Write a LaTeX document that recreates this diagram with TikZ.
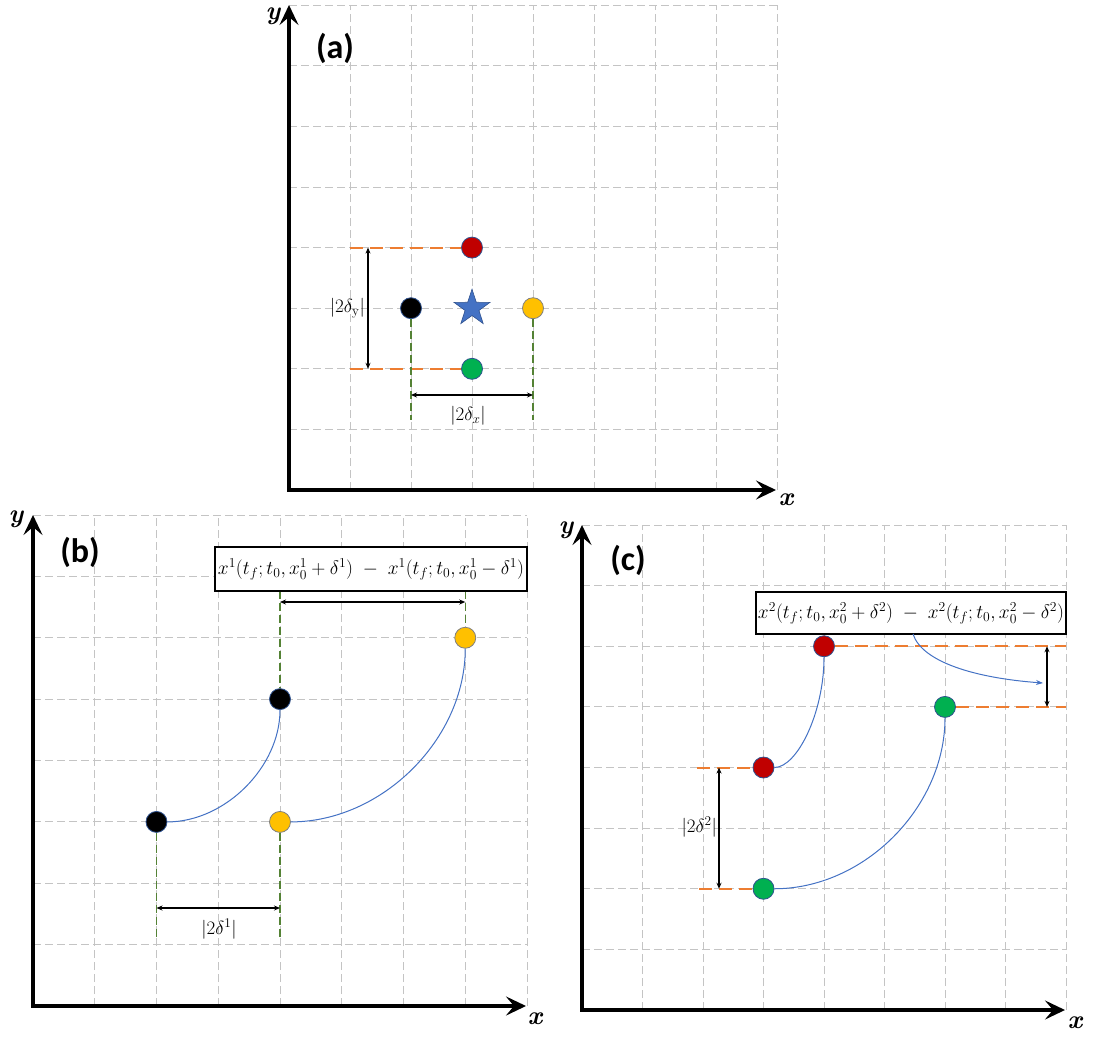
\RequirePackage{fix-cm}
\documentclass[tikz,border=0pt]{standalone}
\usepackage{fontspec}
\usepackage{amsmath}
\newfontfamily\calfont{Carlito}
\usetikzlibrary{arrows.meta,shapes.geometric}
\definecolor{gridc}{HTML}{C4C4C4}
\definecolor{orangec}{HTML}{ED7D31}
\definecolor{greenl}{HTML}{548235}
\definecolor{bluec}{HTML}{4472C4}
\definecolor{redc}{HTML}{C00000}
\definecolor{yelc}{HTML}{FFC000}
\definecolor{grnc}{HTML}{00B050}
\definecolor{outl}{HTML}{2F528F}
\tikzset{
  gridline/.style={gridc, line width=1pt, dash pattern=on 8pt off 4pt},
  axisline/.style={line width=4pt, line join=miter,
    {Stealth[length=20pt,width=19pt,inset=8pt]}-{Stealth[length=20pt,width=19pt,inset=8pt]}},
  dot/.style={circle, minimum size=21pt, inner sep=0pt, line width=0.8pt, draw=outl},
  orangedash/.style={orangec, line width=2pt, dash pattern=on 13pt off 7pt},
  greendash/.style={greenl, line width=1.5pt, dash pattern=on 8pt off 4pt},
  meas/.style={line width=1.6pt, {Stealth[length=6pt,width=5pt]}-{Stealth[length=6pt,width=5pt]}},
  traj/.style={bluec, line width=1pt},
  panellabel/.style={font=\calfont\bfseries\fontsize{34}{34}\selectfont, inner sep=0pt},
  axlabel/.style={font=\bfseries\itshape\fontsize{26}{26}\selectfont, inner sep=0pt},
  mlabel/.style={font=\fontsize{19}{19}\selectfont, inner sep=1pt},
  formbox/.style={draw, line width=2pt, fill=white, inner sep=0pt, font=\fontsize{19.5}{19.5}\selectfont}
}
\begin{document}
\begin{tikzpicture}[x=1pt,y=-1pt]
\useasboundingbox (0,0) rectangle (1094,1036);
% ================= panel (a) =================
\foreach \i in {1,...,8} \draw[gridline] ({289+\i*61},490) -- ({289+\i*61},5);
\foreach \j in {1,...,8} \draw[gridline] (289,{490-\j*60.6}) -- (777,{490-\j*60.6});
\coordinate (aytop) at (289,5);
\coordinate (aorig) at (289,490);
\coordinate (axright) at (776,490);
\draw[axisline] (aytop) -- (aorig) -- (axright);
\node[axlabel] (ay) at (273,16) {y};
\node[axlabel] (ax) at (786,500) {x};
\node[panellabel] (alab) at (335,48) {(a)};
\node[dot, fill=redc] (ar) at (472,247.6) {};
\node[dot, fill=black] (ab) at (411,308.2) {};
\node[dot, fill=yelc, draw=gray] (ay2) at (533,308.2) {};
\node[dot, fill=grnc] (ag) at (472,368.8) {};
\node[star, star points=5, star point ratio=2.6, minimum size=38pt, inner sep=0pt,
      fill=bluec, draw=outl, line width=0.6pt] (astar) at (472,308.2) {};
\coordinate (ao1) at (350,247.6);
\coordinate (ao2) at (350,368.8);
\draw[orangedash] (ao1) -- (ar);
\draw[orangedash] (ao2) -- (ag);
\coordinate (ag1) at (411,420);
\coordinate (ag2) at (533,420);
\draw[greendash] (ab) -- (ag1);
\draw[greendash] (ay2) -- (ag2);
\coordinate (amy1) at (368,247.6);
\coordinate (amy2) at (368,368.8);
\draw[meas] (amy1) -- (amy2);
\node[mlabel, anchor=east] (aly) at (366,308) {$|2\delta_{\mathrm{y}}|$};
\coordinate (amx1) at (411,395);
\coordinate (amx2) at (533,395);
\draw[meas] (amx1) -- (amx2);
\node[mlabel] (alx) at (468,416) {$|2\delta_{x}|$};
% ================= panel (b) =================
\foreach \i in {1,...,8} \draw[gridline] ({33+\i*61.75},1006) -- ({33+\i*61.75},515);
\foreach \j in {1,...,8} \draw[gridline] (33,{1006-\j*61.375}) -- (527,{1006-\j*61.375});
\coordinate (bytop) at (33,515);
\coordinate (borig) at (33,1006);
\coordinate (bxright) at (526,1006);
\draw[axisline] (bytop) -- (borig) -- (bxright);
\node[axlabel] (by) at (16,519) {y};
\node[axlabel] (bx) at (535,1019) {x};
\node[panellabel] (blab) at (80,552) {(b)};
\coordinate (bg1) at (280,591);
\coordinate (bg2) at (465.25,591);
\coordinate (bg3) at (156.5,937);
\coordinate (bg4) at (280,937);
\node[dot, fill=black] (bbl) at (156.5,821.9) {};
\node[dot, fill=black] (bbu) at (280,699.1) {};
\node[dot, fill=yelc, draw=gray] (byl) at (280,821.9) {};
\node[dot, fill=yelc, draw=gray] (byu) at (465.25,637.75) {};
\draw[greendash] (bg1) -- (bbu);
\draw[greendash] (bg2) -- (byu);
\draw[greendash] (bbl) -- (bg3);
\draw[greendash] (byl) -- (bg4);
\draw[traj] (bbl) .. controls (225,821.9) and (280,767) .. (bbu);
\draw[traj] (byl) .. controls (382,821.9) and (465.25,739) .. (byu);
\node[formbox, minimum width=312pt, minimum height=44pt] (bbox) at (371,569)
  {$x^1(t_f;t_0,x_0^1+\delta^1)\;-\;x^1(t_f;t_0,x_0^1-\delta^1)$};
\coordinate (bm1) at (280,602);
\coordinate (bm2) at (465.25,602);
\draw[meas] (bm1) -- (bm2);
\coordinate (bm3) at (156.5,908);
\coordinate (bm4) at (280,908);
\draw[meas] (bm3) -- (bm4);
\node[mlabel] (bl1) at (219,929) {$|2\delta^1|$};
% ================= panel (c) =================
\foreach \i in {1,...,8} \draw[gridline] ({582+\i*60.5},1010) -- ({582+\i*60.5},525);
\foreach \j in {1,...,8} \draw[gridline] (582,{1010-\j*60.625}) -- (1066,{1010-\j*60.625});
\coordinate (cytop) at (582,525);
\coordinate (corig) at (582,1010);
\coordinate (cxright) at (1065,1010);
\draw[axisline] (cytop) -- (corig) -- (cxright);
\node[axlabel] (cy) at (566,530) {y};
\node[axlabel] (cx) at (1075,1023) {x};
\node[panellabel] (clab) at (628,560) {(c)};
\node[dot, fill=redc] (cru) at (824,646.25) {};
\node[dot, fill=grnc] (cgu) at (945,706.9) {};
\node[dot, fill=redc] (crl) at (763.5,767.5) {};
\node[dot, fill=grnc] (cgl) at (763.5,888.75) {};
\coordinate (co1) at (1066,646.25);
\coordinate (co2) at (1066,706.9);
\coordinate (co3) at (697,767.5);
\coordinate (co4) at (699,888.75);
\draw[orangedash] (cru) -- (co1);
\draw[orangedash] (cgu) -- (co2);
\draw[orangedash] (co3) -- (crl);
\draw[orangedash] (co4) -- (cgl);
\draw[traj] (crl) .. controls (797,767.5) and (824,713) .. (cru);
\draw[traj] (cgl) .. controls (864,888.75) and (945,807.5) .. (cgu);
\node[formbox, minimum width=310pt, minimum height=42pt] (cbox) at (911,613)
  {$x^2(t_f;t_0,x_0^2+\delta^2)\;-\;x^2(t_f;t_0,x_0^2-\delta^2)$};
\coordinate (cs) at (913,634);
\coordinate (ce) at (1043,683);
\draw[bluec, line width=1pt, -{Stealth[length=7pt,width=5pt]}] (cs) .. controls (922,662) and (975,678) .. (ce);
\coordinate (cm1) at (1047,646.25);
\coordinate (cm2) at (1047,706.9);
\draw[meas] (cm1) -- (cm2);
\coordinate (cm3) at (719,767.5);
\coordinate (cm4) at (719,888.75);
\draw[meas] (cm3) -- (cm4);
\node[mlabel, anchor=east] (cl2) at (718,827) {$|2\delta^2|$};
\end{tikzpicture}
\end{document}
